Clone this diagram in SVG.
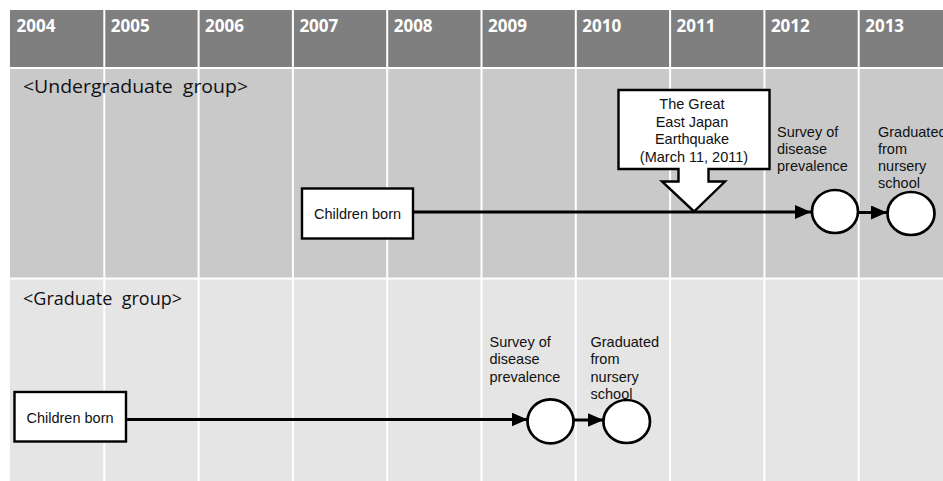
<svg xmlns="http://www.w3.org/2000/svg" width="943" height="481" viewBox="0 0 943 481">
<style>
.yr{font-family:"Open Sans","Liberation Sans",sans-serif;font-weight:bold;font-size:17px;fill:#ffffff}
.grp{font-family:"Open Sans","Liberation Sans",sans-serif;font-size:18px;fill:#111111}
.lbl{font-family:"Liberation Sans",Arial,sans-serif;font-size:14.5px;fill:#111111}
.box{fill:#ffffff;stroke:#000000;stroke-width:2.4}
.node{fill:#ffffff;stroke:#000000;stroke-width:2.7}
.conn{stroke:#000000;stroke-width:3;fill:none;marker-end:url(#arr)}
.grid{stroke:#ffffff;stroke-width:2}
</style>
<defs>
<marker id="arr" markerUnits="userSpaceOnUse" markerWidth="17" markerHeight="15" refX="16" refY="7" orient="auto" viewBox="0 0 17 15">
<path d="M0,0 L16,7 L0,14 Z" fill="#000000"/>
</marker>
</defs>
<rect width="943" height="481" fill="#ffffff"/>
<g id="table">
<rect x="10" y="10" width="933" height="57" fill="#7f7f7f"/>
<rect x="10" y="69" width="933" height="208.5" fill="#c9c9c9"/>
<rect x="10" y="279.5" width="933" height="201.5" fill="#e5e5e5"/>
<g class="grid">
<line x1="104.3" y1="10" x2="104.3" y2="481"/>
<line x1="198.6" y1="10" x2="198.6" y2="481"/>
<line x1="292.9" y1="10" x2="292.9" y2="481"/>
<line x1="387.2" y1="10" x2="387.2" y2="481"/>
<line x1="481.5" y1="10" x2="481.5" y2="481"/>
<line x1="575.8" y1="10" x2="575.8" y2="481"/>
<line x1="670.1" y1="10" x2="670.1" y2="481"/>
<line x1="764.4" y1="10" x2="764.4" y2="481"/>
<line x1="858.7" y1="10" x2="858.7" y2="481"/>
</g>
<g id="years">
<text class="yr" x="16.5" y="31.5">2004</text>
<text class="yr" x="110.8" y="31.5">2005</text>
<text class="yr" x="205.1" y="31.5">2006</text>
<text class="yr" x="299.4" y="31.5">2007</text>
<text class="yr" x="393.7" y="31.5">2008</text>
<text class="yr" x="488" y="31.5">2009</text>
<text class="yr" x="582.3" y="31.5">2010</text>
<text class="yr" x="676.6" y="31.5">2011</text>
<text class="yr" x="770.9" y="31.5">2012</text>
<text class="yr" x="865.2" y="31.5">2013</text>
</g>
<text class="grp" x="23" y="93" textLength="225" lengthAdjust="spacingAndGlyphs" xml:space="preserve">&lt;Undergraduate  group&gt;</text>
<text class="grp" x="23" y="305" textLength="159" lengthAdjust="spacingAndGlyphs" xml:space="preserve">&lt;Graduate  group&gt;</text>
</g>
<g id="connectors">
<line class="conn" x1="413" y1="212" x2="811" y2="212"/>
<line class="conn" x1="858" y1="212.5" x2="887" y2="212.5"/>
<line class="conn" x1="126" y1="419.5" x2="527.5" y2="419.5"/>
<line class="conn" x1="573" y1="420" x2="603.5" y2="420"/>
</g>
<g id="ug-born">
<rect class="box" x="302" y="188.5" width="111" height="50"/>
<text class="lbl" x="357.5" y="218.5" text-anchor="middle">Children born</text>
</g>
<g id="earthquake">
<path class="box" d="M618.5,90 H769.5 V169 H708.5 V181.5 H725 L694,211.5 L662,181.5 H678.5 V169 H618.5 Z"/>
<text class="lbl" text-anchor="middle">
<tspan x="694" y="109">The Great</tspan>
<tspan x="694" y="126.5">East Japan</tspan>
<tspan x="694" y="144">Earthquake</tspan>
<tspan x="694" y="161.5">(March 11, 2011)</tspan>
</text>
</g>
<g id="ug-survey">
<ellipse class="node" cx="835" cy="211.5" rx="23" ry="21.5"/>
<text class="lbl"><tspan x="777" y="136.5">Survey of</tspan><tspan x="777" y="153.5">disease</tspan><tspan x="777" y="170.5">prevalence</tspan></text>
</g>
<g id="ug-graduated">
<ellipse class="node" cx="911" cy="213.5" rx="23.5" ry="21.5"/>
<text class="lbl"><tspan x="878" y="136.5">Graduated</tspan><tspan x="878" y="153.5">from</tspan><tspan x="878" y="170.5">nursery</tspan><tspan x="878" y="187.5">school</tspan></text>
</g>
<g id="g-born">
<rect class="box" x="14.5" y="392" width="111.5" height="49.5"/>
<text class="lbl" x="70" y="422.5" text-anchor="middle">Children born</text>
</g>
<g id="g-survey">
<ellipse class="node" cx="550.5" cy="421.3" rx="23" ry="22"/>
<text class="lbl"><tspan x="489.5" y="346.5">Survey of</tspan><tspan x="489.5" y="364">disease</tspan><tspan x="489.5" y="381.5">prevalence</tspan></text>
</g>
<g id="g-graduated">
<text class="lbl"><tspan x="590.5" y="346.5">Graduated</tspan><tspan x="590.5" y="364">from</tspan><tspan x="590.5" y="381.5">nursery</tspan><tspan x="590.5" y="399">school</tspan></text>
<ellipse class="node" cx="626.7" cy="421.5" rx="23.3" ry="21.5"/>
</g>
</svg>
